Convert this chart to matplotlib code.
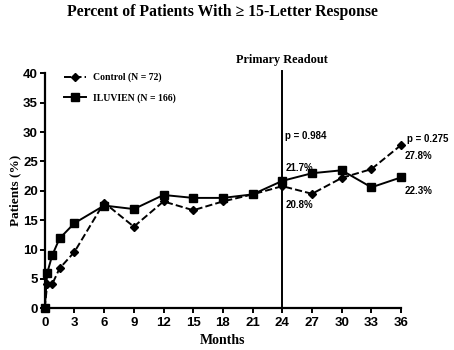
import matplotlib
matplotlib.use("Agg")
import matplotlib.pyplot as plt

months = [0, 0.25, 0.75, 1.5, 3, 6, 9, 12, 15, 18, 21, 24, 27, 30, 33, 36]
control = [0, 4.1, 4.1, 6.8, 9.6, 18.0, 13.9, 18.2, 16.7, 18.2, 19.4, 20.8, 19.5, 22.2, 23.7, 27.8]
iluvien = [0, 6.0, 9.0, 11.9, 14.5, 17.5, 16.9, 19.3, 18.8, 18.8, 19.4, 21.7, 23.0, 23.5, 20.6, 22.3]
x_ticks = list(range(0, 37, 3))
y_ticks = list(range(0, 41, 5))
readout_month = 24

serif = "Liberation Serif"
sans = "Liberation Sans"

fig = plt.figure(figsize=(4.54, 3.5), dpi=100)
ax = fig.add_axes([0.0985, 0.119, 0.785, 0.6714])

ax.plot(months, control, color="black", ls="--", lw=1.4, marker="D", ms=4,
        label="Control (N = 72)", clip_on=False, zorder=3)
ax.plot(months, iluvien, color="black", ls="-", lw=1.4, marker="s", ms=5.5,
        label="ILUVIEN (N = 166)", clip_on=False, zorder=3)

ax.plot([readout_month, readout_month], [0, 40.4], color="black", lw=1.4,
        clip_on=False, zorder=2)
ax.text(readout_month, 41.2, "Primary Readout", ha="center", va="bottom",
        fontsize=8.8, fontweight="bold", family=serif)

ax.set_xlim(0, 36)
ax.set_ylim(0, 40)
ax.set_xticks(x_ticks)
ax.set_yticks(y_ticks)
for s in ["top", "right"]:
    ax.spines[s].set_visible(False)
for s in ["left", "bottom"]:
    ax.spines[s].set_linewidth(1.6)
ax.tick_params(width=1.4, length=3.5, labelsize=9.5, pad=1.5)
ax.tick_params(axis="x", pad=2.5)
for lbl in ax.get_xticklabels() + ax.get_yticklabels():
    lbl.set_fontweight("bold")
    lbl.set_family(sans)

ax.set_xlabel("Months", fontsize=10, fontweight="bold", family=serif, labelpad=4)
ax.set_ylabel("Patients (%)", fontsize=9.5, fontweight="bold", family=serif, labelpad=1)

fig.text(0.49, 0.965, "Percent of Patients With \u2265 15-Letter Response", ha="center",
         va="center", fontsize=11.3, fontweight="bold", family=[serif, "DejaVu Serif"])

ann = dict(fontsize=7, fontweight="bold", family=sans, ha="left", va="center")
ax.text(24.3, 29.4, "p = 0.984", **ann)
ax.text(24.3, 23.9, "21.7%", **ann)
ax.text(24.3, 17.6, "20.8%", **ann)
ax.text(36.6, 28.9, "p = 0.275", **ann)
ax.text(36.4, 26.0, "27.8%", **ann)
ax.text(36.4, 20.0, "22.3%", **ann)

leg = ax.legend(loc="upper left", bbox_to_anchor=(0.03, 1.04), frameon=False,
                prop={"family": serif, "weight": "bold", "size": 7},
                handlelength=2.2, labelspacing=1.1, handletextpad=0.8)

fig.savefig("out.png", dpi=100)
